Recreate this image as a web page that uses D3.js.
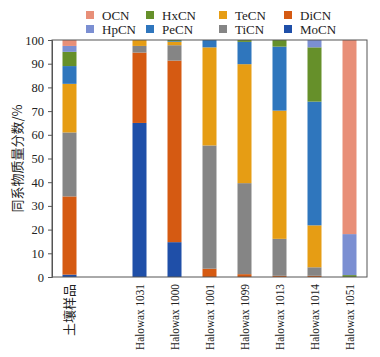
<!DOCTYPE html>
<html><head><meta charset="utf-8">
<script src="https://cdn.jsdelivr.net/npm/d3@7"></script>
<style>body{margin:0;background:#fff;} svg{display:block;} .serif{font-family:"Liberation Serif","DejaVu Serif Condensed",serif;} .cjk{font-family:"Noto Sans CJK SC",sans-serif;}</style>
</head><body>
<svg id="c" width="380" height="357"></svg>
<script>
const categories = ["土壤样品", "", "Halowax 1031", "Halowax 1000", "Halowax 1001", "Halowax 1099", "Halowax 1013", "Halowax 1014", "Halowax 1051"];
const seriesNames = ["MoCN", "DiCN", "TiCN", "TeCN", "PeCN", "HxCN", "HpCN", "OCN"];
const MoCN = [1, 0, 65, 14.7, 0, 0, 0, 0, 0];
const DiCN = [33, 0, 29.7, 76.6, 3.5, 1.2, 0.5, 0.5, 0];
const TiCN = [27, 0, 2.8, 6.5, 52, 38.4, 15.6, 3.6, 0];
const TeCN = [20.5, 0, 2.5, 1.4, 41.4, 50.2, 54.1, 17.7, 0];
const PeCN = [7.5, 0, 0, 0.3, 3.1, 9.4, 27, 52.2, 0];
const HxCN = [6, 0, 0, 0.5, 0, 0.8, 2.8, 22.9, 0.8];
const HpCN = [2.5, 0, 0, 0, 0, 0, 0, 3.1, 17.3];
const OCN = [2.5, 0, 0, 0, 0, 0, 0, 0, 81.9];
const yTicks = [0, 10, 20, 30, 40, 50, 60, 70, 80, 90, 100];
const legendOrder = ["OCN", "HxCN", "TeCN", "DiCN", "HpCN", "PeCN", "TiCN", "MoCN"];

const colors = {MoCN:"#1f4fa8", DiCN:"#d55a12", TiCN:"#858585", TeCN:"#e69d14", PeCN:"#2f76bd", HxCN:"#66902a", HpCN:"#7b8fd2", OCN:"#e88f78"};
const valuesBySeries = {MoCN, DiCN, TiCN, TeCN, PeCN, HxCN, HpCN, OCN};

const rows = categories.map((c, i) => {
  const r = {cat: c || ("_empty" + i)};
  seriesNames.forEach(s => r[s] = valuesBySeries[s][i]);
  return r;
});

const svg = d3.select("#c");
const m = {l: 52, r: 13, t: 40, b: 80};
const W = 380, H = 357;
const x = d3.scaleBand().domain(rows.map(r => r.cat)).range([m.l, W - m.r]).paddingInner(0.6).paddingOuter(0.3);
const y = d3.scaleLinear().domain([0, 100]).range([H - m.b, m.t]);

const stack = d3.stack().keys(seriesNames)(rows);
const g = svg.append("g");
g.selectAll("g.s").data(stack).join("g").attr("fill", d => colors[d.key])
  .selectAll("rect").data(d => d).join("rect")
  .attr("x", d => x(d.data.cat))
  .attr("width", x.bandwidth())
  .attr("y", d => y(d[1]))
  .attr("height", d => Math.max(0, y(d[0]) - y(d[1])));

// frame
svg.append("rect").attr("x", m.l).attr("y", m.t).attr("width", W - m.r - m.l).attr("height", H - m.b - m.t)
  .attr("fill", "none").attr("stroke", "#555").attr("stroke-width", 1);

const yAxis = svg.append("g").attr("transform", `translate(${m.l},0)`)
  .call(d3.axisLeft(y).tickValues(yTicks).tickSize(4).tickPadding(4));
yAxis.attr("font-family", null).attr("font-size", null);
yAxis.select(".domain").attr("stroke", "#555");
yAxis.selectAll(".tick line").attr("stroke", "#555");
yAxis.selectAll("text").attr("class", "serif").attr("font-size", 12.5).attr("fill", "#222");

// x labels
const xl = svg.append("g");
xl.selectAll("text").data(categories.map((c, i) => ({c, k: rows[i].cat})).filter(d => d.c !== "")).join("text")
  .attr("class", d => /Halowax/.test(d.c) ? "serif" : "cjk")
  .attr("transform", d => `translate(${x(d.k) + x.bandwidth() / 2 + 4.5},${H - m.b + 7}) rotate(-90)`)
  .attr("text-anchor", "end")
  .attr("font-size", 13).attr("fill", "#222")
  .text(d => d.c);
// keep labels inside the picture: compress long labels to fit
xl.selectAll("text").each(function() {
  const w = this.getComputedTextLength();
  if (w > 66) d3.select(this).attr("textLength", 66).attr("lengthAdjust", "spacingAndGlyphs");
});

// y title
svg.append("text").attr("class", "cjk").attr("transform", `translate(22,${(m.t + H - m.b) / 2}) rotate(-90)`)
  .attr("text-anchor", "middle")
  .attr("font-size", 13).attr("fill", "#222").text("同系物质量分数/%");

// legend
const colX = [90, 150, 223, 288];
const rowY = [15, 29];
const lg = svg.append("g");
legendOrder.forEach((s, i) => {
  const cx = colX[i % 4], cy = rowY[Math.floor(i / 4)];
  lg.append("rect").attr("x", cx - 4).attr("y", cy - 4).attr("width", 8).attr("height", 8).attr("fill", colors[s]);
  lg.append("text").attr("class", "serif").attr("x", cx + 12).attr("y", cy + 4.5)
    .attr("font-size", 13).attr("fill", "#222").text(s);
});
</script>
</body></html>
